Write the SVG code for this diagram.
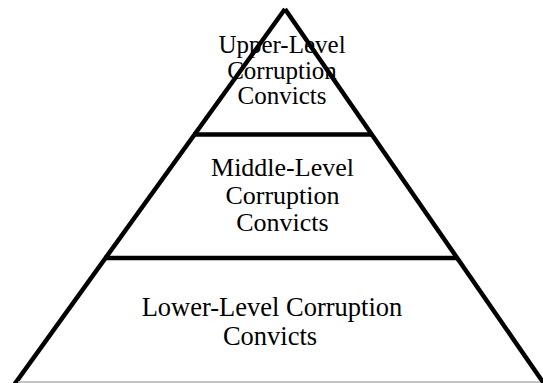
<svg xmlns="http://www.w3.org/2000/svg" width="543" height="383" viewBox="0 0 543 383">
<style>
.edge{stroke:#000;stroke-width:4.5;fill:none;stroke-linecap:butt}
.lbl{font-family:"Liberation Serif","Times New Roman",serif;fill:#000;text-anchor:middle}
</style>
<rect x="0" y="0" width="543" height="383" fill="#fff"/>
<g id="connectors">
<line class="edge" x1="285" y1="9" x2="14" y2="385"/>
<line class="edge" x1="285" y1="9" x2="545" y2="385"/>
<line class="edge" x1="193" y1="134.5" x2="373" y2="134.5"/>
<line class="edge" x1="104" y1="258" x2="457" y2="258"/>
<line x1="18" y1="382" x2="540" y2="382" stroke="#b0b0b0" stroke-width="1.5"/>
</g>
<g id="upper">
<text class="lbl" font-size="25" x="282" y="53">Upper-Level</text>
<text class="lbl" font-size="25" x="282" y="78.5">Corruption</text>
<text class="lbl" font-size="25" x="282" y="104">Convicts</text>
</g>
<g id="middle">
<text class="lbl" font-size="26" x="282.5" y="176">Middle-Level</text>
<text class="lbl" font-size="26" x="282.5" y="203.5">Corruption</text>
<text class="lbl" font-size="26" x="282.5" y="231">Convicts</text>
</g>
<g id="lower">
<text class="lbl" font-size="26.5" x="272" y="315.5">Lower-Level Corruption</text>
<text class="lbl" font-size="26.5" x="270" y="344.5">Convicts</text>
</g>
</svg>
